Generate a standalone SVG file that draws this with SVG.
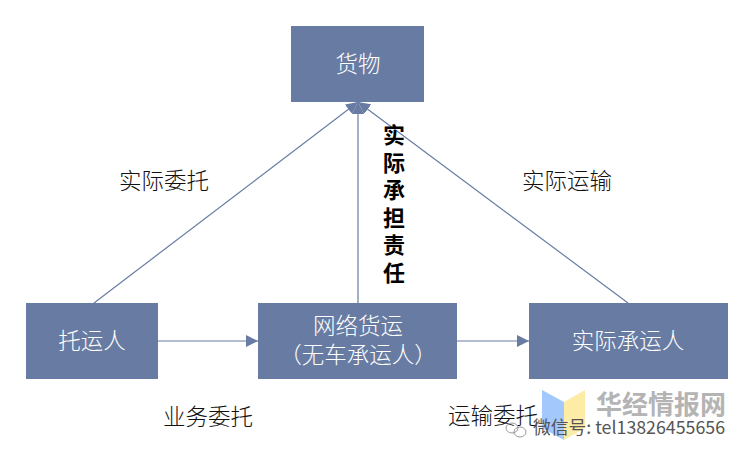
<svg xmlns="http://www.w3.org/2000/svg" width="749" height="460" viewBox="0 0 749 460">
<style>
text{font-family:"Noto Sans CJK SC","Liberation Sans",sans-serif;font-size:22.5px;text-anchor:middle;text-spacing-trim:space-all}
.box{fill:#687ca3}
.w{fill:#fff;font-weight:300}
.k{fill:#111;font-weight:300}
.b{fill:#000;font-weight:700;font-size:22px}
.c{stroke:#687ca3;stroke-width:1.2;fill:none;marker-end:url(#a)}
</style>
<defs><marker id="a" markerUnits="userSpaceOnUse" markerWidth="13" markerHeight="12" refX="12" refY="6" orient="auto"><path d="M0 0L12 6L0 12Z" fill="#687ca3"/></marker></defs>
<rect width="749" height="460" fill="#fff"/>
<g id="connectors">
<line class="c" x1="94" y1="303" x2="358" y2="102"/>
<line class="c" x1="358" y1="303" x2="358" y2="102"/>
<line class="c" x1="628" y1="303" x2="358" y2="102"/>
<line class="c" x1="158" y1="341" x2="258" y2="341"/>
<line class="c" x1="457" y1="341" x2="529" y2="341"/>
</g>
<g id="node-cargo"><rect class="box" x="291" y="26" width="133" height="76"/><text class="w" x="358" y="72">货物</text></g>
<g id="node-shipper"><rect class="box" x="26" y="303" width="132" height="76"/><text class="w" x="92" y="349">托运人</text></g>
<g id="node-platform"><rect class="box" x="258" y="303" width="199" height="76"/><text class="w" x="358" y="334">网络货运</text><text class="w" x="358" y="363">（无车承运人）</text></g>
<g id="node-carrier"><rect class="box" x="529" y="303" width="199" height="76"/><text class="w" x="628" y="349">实际承运人</text></g>
<g id="labels">
<text class="k" x="164" y="189">实际委托</text>
<text class="k" x="567" y="189">实际运输</text>
<text class="k" x="208" y="425">业务委托</text>
<text class="b"><tspan x="394" y="143">实</tspan><tspan x="394" y="170.5">际</tspan><tspan x="394" y="198">承</tspan><tspan x="394" y="225.5">担</tspan><tspan x="394" y="253">责</tspan><tspan x="394" y="280.5">任</tspan></text>
</g>
<g id="watermark">
<path d="M542 390L564 402V440L542 428Z" fill="#a3c8fb"/>
<path d="M564 402L585 390V428L564 440Z" fill="#fdeca6"/>
<text class="k" x="493" y="424">运输委托</text>
<g fill="none" stroke="#999" stroke-width="1"><ellipse cx="512" cy="428" rx="6" ry="5"/><ellipse cx="520" cy="432" rx="6" ry="5"/></g>
<text x="661" y="414" style="font-size:26px;font-weight:700;fill:#b4b4b4">华经情报网</text>
<text x="629" y="434" style="font-size:17.8px;fill:#555">微信号: tel13826455656</text>
</g>
</svg>
